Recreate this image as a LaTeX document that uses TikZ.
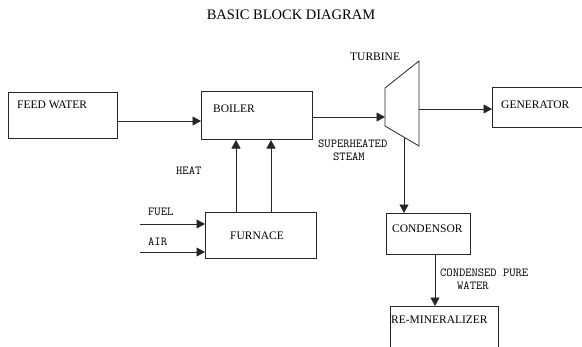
\documentclass[tikz,border=0pt]{standalone}
\usepackage{fontspec}
\setmainfont{Liberation Serif}
\usetikzlibrary{arrows.meta}
\tikzset{
  blk/.style={draw=black!85, line width=0.8pt, anchor=north west, inner sep=0pt},
  boxtxt/.style={anchor=west, inner sep=0pt, font=\fontsize{11.5}{13}\selectfont},
  lbl/.style={anchor=west, inner sep=0pt, font=\ttfamily\fontsize{12.2}{12}\selectfont},
  conn/.style={draw=black!85, line width=0.8pt},
  arr/.style={conn, -{Triangle[length=8.5pt,width=9pt]}}
}
\begin{document}
\begin{tikzpicture}[x=1pt,y=-1pt]
\useasboundingbox (0,0) rectangle (582,346);
\clip (0,0) rectangle (582,346);
% title
\node[inner sep=0pt, font=\fontsize{14.5}{16}\selectfont] (title) at (291,15) {BASIC BLOCK DIAGRAM};
% boxes
\node[blk, minimum width=109pt, minimum height=46pt] (feed) at (8,92) {};
\node[blk, minimum width=111pt, minimum height=48pt] (boiler) at (201,91) {};
\node[blk, minimum width=100pt, minimum height=40pt] (gen) at (492,87) {};
\node[blk, minimum width=111pt, minimum height=46pt] (furn) at (205,212) {};
\node[blk, minimum width=84pt, minimum height=41pt] (cond) at (386,213) {};
\node[blk, minimum width=108pt, minimum height=50pt] (remin) at (390,306) {};
% turbine
\coordinate (t1) at (385,88);
\coordinate (t2) at (419,61);
\coordinate (t3) at (419,146);
\coordinate (t4) at (385,126);
\draw[conn] (t1) -- (t2) -- (t3) -- (t4) -- cycle;
% box texts
\node[boxtxt] (feedt) at (17,105) {FEED WATER};
\node[boxtxt] (boilt) at (213,109) {BOILER};
\node[boxtxt] (gent) at (501,105) {GENERATOR};
\node[boxtxt] (furnt) at (230,236) {FURNACE};
\node[boxtxt] (condt) at (392,229) {CONDENSOR};
\node[boxtxt] (remint) at (391,320) {RE-MINERALIZER};
\node[boxtxt] (turbt) at (350,57) {TURBINE};
% labels
\node[lbl] (heat) at (176,171) {HEAT};
\node[lbl] (fuel) at (148,212) {FUEL};
\node[lbl] (air) at (148,242) {AIR};
\node[lbl] (sh1) at (318,144) {SUPERHEATED};
\node[lbl] (sh2) at (333,157) {STEAM};
\node[lbl] (cw1) at (440,273) {CONDENSED PURE};
\node[lbl] (cw2) at (457,286) {WATER};
% connector coordinates
\coordinate (fuelin) at (140,224);
\coordinate (airin) at (140,252);
\coordinate (tin) at (385,117);
\coordinate (tout) at (419,109);
\coordinate (tbot) at (404,137.2);
% connectors
\draw[arr] (feed.east |- 0,121) -- (boiler.west |- 0,121);
\draw[arr] (boiler.east |- 0,117) -- (tin);
\draw[arr] (tout) -- (gen.west |- tout);
\draw[arr] (furn.north -| 236,0) -- (236,140);
\draw[arr] (furn.north -| 271,0) -- (271,140);
\draw[arr] (fuelin) -- (furn.west |- fuelin);
\draw[arr] (airin) -- (furn.west |- airin);
\draw[arr] (tbot) -- (cond.north -| tbot);
\draw[arr] (cond.south -| 435,0) -- (remin.north -| 435,0);
\end{tikzpicture}
\end{document}
